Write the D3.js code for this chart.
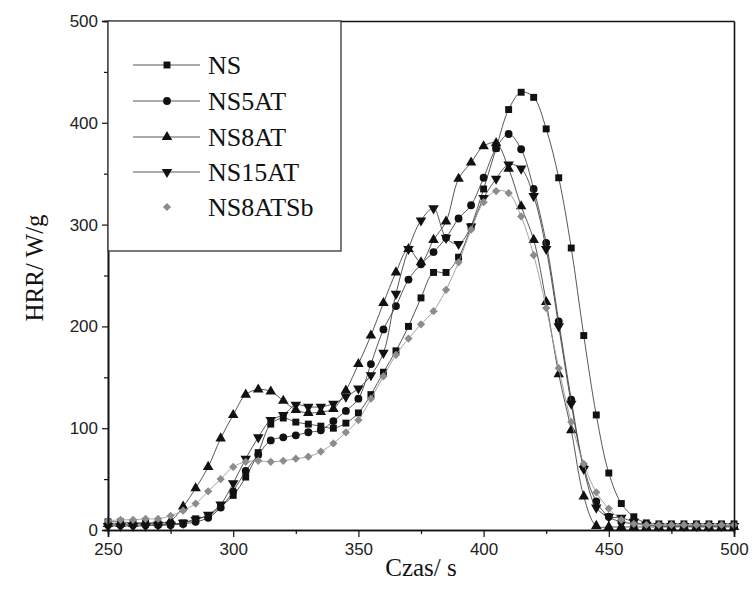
<!DOCTYPE html>
<html>
<head>
<meta charset="utf-8">
<script src="https://cdn.jsdelivr.net/npm/d3@7"></script>
<style>
  html, body { margin: 0; padding: 0; background: #fff; }
  svg { display: block; }
</style>
</head>
<body>
<svg id="chart" width="754" height="604"></svg>
<script>
// Time axis (s), one reading every 5 s from 250 to 500
const times = d3.range(250, 501, 5);

const seriesNames = ["NS", "NS5AT", "NS8AT", "NS15AT", "NS8ATSb"];

// Heat release rate, W/g
const hrrNS = [8, 8, 7, 7, 6, 6, 7, 11, 14, 23, 34, 52, 76, 104, 110, 106, 104, 102, 100, 105,
  115, 133, 155, 176, 200, 228, 253, 253, 268, 298, 335, 375, 413, 430, 425, 394, 346, 277, 191, 113,
  56, 26, 13, 7, 6, 6, 6, 6, 6, 6, 6];
const hrrNS5AT = [5, 5, 5, 5, 5, 5, 6, 8, 12, 22, 38, 58, 74, 88, 91, 93, 96, 98, 107, 117,
  129, 163, 197, 220, 246, 261, 273, 287, 306, 319, 346, 375, 389, 374, 335, 282, 205, 128, 62, 28,
  13, 8, 6, 5, 4, 4, 4, 4, 4, 4, 4];
const hrrNS8AT = [6, 6, 6, 7, 7, 9, 23, 41, 62, 90, 113, 133, 138, 136, 127, 118, 115, 116, 119, 137,
  163, 191, 223, 253, 276, 263, 285, 303, 345, 361, 377, 380, 355, 318, 285, 224, 153, 98, 33, 4,
  3, 3, 3, 3, 3, 3, 3, 3, 3, 3, 3];
const hrrNS15AT = [4, 4, 4, 4, 5, 5, 7, 10, 15, 25, 46, 70, 91, 108, 113, 123, 121, 121, 124, 131,
  139, 152, 174, 232, 276, 304, 316, 287, 281, 298, 326, 345, 359, 355, 328, 276, 200, 124, 60, 22,
  13, 12, 8, 5, 4, 4, 4, 4, 4, 4, 4];
const hrrNS8ATSb = [9, 10, 10, 11, 11, 14, 19, 26, 38, 50, 62, 67, 68, 67, 68, 70, 72, 77, 85, 96,
  108, 129, 151, 172, 188, 202, 215, 236, 263, 295, 322, 333, 331, 308, 270, 218, 159, 106, 65, 37,
  21, 10, 6, 5, 5, 5, 5, 5, 5, 5, 5];

const xMajorTicks = [250, 300, 350, 400, 450, 500];
const xMinorTicks = [275, 325, 375, 425, 475];
const yMajorTicks = [0, 100, 200, 300, 400, 500];
const yMinorTicks = [50, 150, 250, 350, 450];

const seriesValues = [hrrNS, hrrNS5AT, hrrNS8AT, hrrNS15AT, hrrNS8ATSb];
const seriesStyle = [
  { symbol: d3.symbolSquare, size: 48, rotate: 0, fill: "#111", line: "#444", legendLine: true },
  { symbol: d3.symbolCircle, size: 48, rotate: 0, fill: "#111", line: "#444", legendLine: true },
  { symbol: d3.symbolTriangle, size: 48, rotate: 0, fill: "#111", line: "#444", legendLine: true },
  { symbol: d3.symbolTriangle, size: 48, rotate: 180, fill: "#111", line: "#444", legendLine: true },
  { symbol: d3.symbolSquare, size: 34, rotate: 45, fill: "#8c8c8c", line: "#9a9a9a", legendLine: false }
];

const svg = d3.select("#chart");
const plotLeft = 108, plotRight = 734, plotTop = 21, plotBottom = 530;

const x = d3.scaleLinear().domain([250, 500]).range([plotLeft, plotRight]);
const y = d3.scaleLinear().domain([0, 500]).range([plotBottom, plotTop]);

// Series lines and markers
const line = d3.line()
  .x((d, i) => x(times[i]))
  .y(d => y(d))
  .curve(d3.curveCatmullRom.alpha(0.5));

seriesValues.forEach((vals, s) => {
  const st = seriesStyle[s];
  const g = svg.append("g").attr("class", "series-" + seriesNames[s]);
  g.append("path")
    .datum(vals)
    .attr("d", line)
    .attr("fill", "none")
    .attr("stroke", st.line)
    .attr("stroke-width", 0.9);
  g.selectAll("path.pt")
    .data(vals)
    .join("path")
    .attr("class", "pt")
    .attr("d", d3.symbol().type(st.symbol).size(st.size))
    .attr("transform", (d, i) => `translate(${x(times[i])},${y(d)}) rotate(${st.rotate})`)
    .attr("fill", st.fill);
});

// Axes
const tickFont = "'Liberation Sans', Arial, sans-serif";

svg.append("g").attr("transform", `translate(0,${plotBottom})`)
  .call(d3.axisBottom(x).tickValues(xMajorTicks).tickSize(7).tickPadding(6).tickFormat(d3.format("d")));
svg.append("g").attr("transform", `translate(0,${plotBottom})`)
  .call(d3.axisBottom(x).tickValues(xMinorTicks).tickSize(4).tickFormat(""));

svg.append("g").attr("transform", `translate(${plotLeft},0)`)
  .call(d3.axisLeft(y).tickValues(yMajorTicks).tickSize(6).tickPadding(4).tickFormat(d3.format("d")));
svg.append("g").attr("transform", `translate(${plotLeft},0)`)
  .call(d3.axisLeft(y).tickValues(yMinorTicks).tickSize(4).tickFormat(""));

svg.append("g").attr("transform", `translate(0,${plotTop})`)
  .call(d3.axisTop(x).tickValues([]).tickSizeOuter(0));
svg.append("g").attr("transform", `translate(${plotRight},0)`)
  .call(d3.axisRight(y).tickValues([]).tickSizeOuter(0));

svg.selectAll(".domain").attr("stroke", "#111").attr("stroke-width", 1.6);
svg.selectAll(".tick line").attr("stroke", "#111").attr("stroke-width", 1.2);
svg.selectAll(".tick text")
  .attr("font-family", tickFont)
  .attr("font-size", 17)
  .attr("fill", "#222");

// Axis titles
const serif = "'Liberation Serif', 'Times New Roman', serif";
svg.append("text")
  .attr("x", 421)
  .attr("y", 576)
  .attr("text-anchor", "middle")
  .attr("font-family", serif)
  .attr("font-size", 25)
  .attr("fill", "#111")
  .text("Czas/ s");

svg.append("text")
  .attr("transform", `translate(43,268) rotate(-90)`)
  .attr("text-anchor", "middle")
  .attr("font-family", serif)
  .attr("font-size", 25)
  .attr("fill", "#111")
  .text("HRR/ W/g");

// Legend
const legend = svg.append("g");
legend.append("rect")
  .attr("x", plotLeft).attr("y", plotTop)
  .attr("width", 341 - plotLeft).attr("height", 251 - plotTop)
  .attr("fill", "#fff")
  .attr("stroke", "#333")
  .attr("stroke-width", 1.3);

const legendRows = [65, 101, 137, 172, 207];
seriesNames.forEach((name, s) => {
  const st = seriesStyle[s];
  const ry = legendRows[s];
  if (st.legendLine) {
    legend.append("line")
      .attr("x1", 133).attr("x2", 200)
      .attr("y1", ry).attr("y2", ry)
      .attr("stroke", st.line).attr("stroke-width", 0.9);
  }
  legend.append("path")
    .attr("d", d3.symbol().type(st.symbol).size(st.size)())
    .attr("transform", `translate(167,${ry}) rotate(${st.rotate})`)
    .attr("fill", st.fill);
  legend.append("text")
    .attr("x", 208).attr("y", ry + 9)
    .attr("font-family", serif)
    .attr("font-size", 26)
    .attr("fill", "#111")
    .text(name);
});
</script>
</body>
</html>
